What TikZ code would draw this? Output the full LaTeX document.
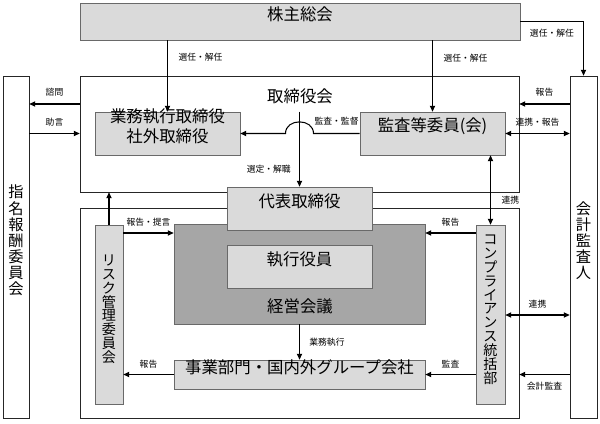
\documentclass[tikz,border=0pt]{standalone}
\usepackage{fontspec}
\setmainfont{Noto Sans CJK JP}
\usepackage{tikz}
\usetikzlibrary{fit}
\usetikzlibrary{calc}
\usetikzlibrary{arrows.meta}
\usetikzlibrary{positioning}
\usepackage{color}
\definecolor{boxgray}{RGB}{218, 218, 218}
\definecolor{meetgray}{RGB}{166, 166, 166}
\definecolor{edgegray}{RGB}{105, 105, 105}
\newcommand{\tatelines}{\lineskiplimit -20pt\relax}

\begin{document}
\begin{tikzpicture}[x=0.03cm, y=-0.03cm,
        frame/.style={draw=black!85, line width=0.6pt, inner sep=0pt},
        graybox/.style={draw=edgegray, fill=boxgray, line width=0.6pt, inner sep=0pt,
                        align=center, font=\fontsize{14}{17}\selectfont},
        tatebox/.style={draw=edgegray, fill=boxgray, line width=0.6pt, inner sep=0pt,
                        align=center, font=\fontsize{12}{11.8}\selectfont\tatelines},
        tateframe/.style={frame, align=center, font=\fontsize{13}{13.8}\selectfont\tatelines},
        big/.style={font=\fontsize{14}{17}\selectfont, inner sep=0pt},
        lbl/.style={font=\fontsize{7.5}{9}\selectfont, inner sep=1pt},
        arr/.style={-{Triangle[length=5pt, width=4.5pt]}, line width=0.9pt},
        both/.style={{Triangle[length=5pt, width=4.5pt]}-{Triangle[length=5pt, width=4.5pt]}, line width=0.9pt}]
    \useasboundingbox (0,0) rectangle (600,423);
    % Rows of the horizontal arrows
    \coordinate (askrow)  at (0,104);
    \coordinate (reprow)  at (0,233);
    \coordinate (linkrow) at (0,315);
    % Shareholders
    \node[graybox, fit={(80,3) (520,40)}]                     (sh)      {株主総会};
    % Board
    \node[frame, fit={(80,76) (519,192)}]                     (board)   {};
    \node[big] at (300,96)                                     (boardlbl) {取締役会};
    \node[graybox, fit={(95,112) (240,155)}]                  (gyomu)   {業務執行取締役\\社外取締役};
    \node[graybox, fit={(360,112) (505,155)}]                 (kansa)   {監査等委員(会)};
    % Execution side
    \node[frame, fit={(80,208) (519,418)}]                    (lower)   {};
    \node[draw=edgegray, fill=meetgray, line width=0.6pt, inner sep=0pt,
          fit={(174,224) (425,324)}]                          (keiei)   {};
    \node[big] at (300,306)                                    (keieilbl) {経営会議};
    \node[graybox, fit={(227,245) (372,288)}]                 (shikko)  {執行役員};
    \node[graybox, fit={(174,360) (425,389)}]                 (jigyo)   {事業部門・国内外グループ会社};
    \node[tatebox, fit={(95,225) (123,404)}]                  (risk)    {リ\\ス\\ク\\管\\理\\委\\員\\会};
    \node[tatebox, fit={(476,225) (505,404)}]                 (comp)    {コ\\ン\\プ\\ラ\\イ\\ア\\ン\\ス\\統\\括\\部};
    \node[graybox, fit={(227,187) (372,230)}]                 (daihyo)  {代表取締役};
    % Outside committees
    \node[tateframe, fit={(3,76) (29,418)}]                   (shimei)  {指\\名\\報\\酬\\委\\員\\会};
    \node[tateframe, fit={(570,76) (597,418)}]                (kaikei)  {会\\計\\監\\査\\人};

    % Shareholders to board and auditor
    \draw[arr] (gyomu.north |- sh.south) -- (gyomu.north)
         node[lbl, pos=0.24, right=8pt] {選任・解任};
    \draw[arr] (kansa.north |- sh.south) -- (kansa.north)
         node[lbl, pos=0.25, right=8pt] {選任・解任};
    \draw[arr] (sh.east) -| (kaikei.north)
         node[lbl, pos=0.25, below=5pt] {選任・解任};
    % Nomination committee
    \draw[arr] (board.west |- askrow) -- (shimei.east |- askrow)
         node[lbl, midway, above=5pt] {諮問};
    \draw[arr] (shimei.east |- gyomu) -- (board.west |- gyomu)
         node[lbl, midway, above=5pt] {助言};
    % Accounting auditor
    \draw[arr] (kaikei.west |- askrow) -- (board.east |- askrow)
         node[lbl, midway, above=5pt] {報告};
    \draw[both] (kansa.east) -- (kaikei.west |- kansa)
         node[lbl, midway, above=5pt] {連携・報告};
    \draw[both] (comp.east |- linkrow) -- (kaikei.west |- linkrow)
         node[lbl, midway, above=4pt] {連携};
    \draw[arr] (kaikei.west |- jigyo) -- (lower.east |- jigyo)
         node[lbl, midway, below=5pt] {会計監査};
    % Inside the board
    \draw[arr] (daihyo.north |- kansa.north) -- (daihyo.north)
         node[lbl, pos=0.77, left=6pt] {選定・解職};
    \draw[arr] (kansa.west) -- ($(daihyo.north |- kansa.west)+(14,0)$)
         node[lbl, midway, above=6pt] {監査・監督}
         .. controls +(0,-15.5) and +(0,-15.5) .. ($(daihyo.north |- kansa.west)+(-14,0)$)
         -- (gyomu.east);
    \draw[both] (comp.north) -- (comp.north |- kansa.south)
         node[lbl, pos=0.36, right=8pt] {連携};
    % Execution side
    \draw[arr] (risk.north) -- (risk.north |- board.south);
    \draw[arr] (risk.east |- reprow) -- (keiei.west |- reprow)
         node[lbl, midway, above=4pt] {報告・提言};
    \draw[arr] (comp.west |- reprow) -- (keiei.east |- reprow)
         node[lbl, midway, above=4pt] {報告};
    \draw[arr] (keiei.south) -- (jigyo.north)
         node[lbl, midway, right=7pt] {業務執行};
    \draw[arr] (jigyo.west) -- (risk.east |- jigyo)
         node[lbl, midway, above=4pt] {報告};
    \draw[arr] (comp.west |- jigyo) -- (jigyo.east)
         node[lbl, midway, above=4pt] {監査};
\end{tikzpicture}
\end{document}
